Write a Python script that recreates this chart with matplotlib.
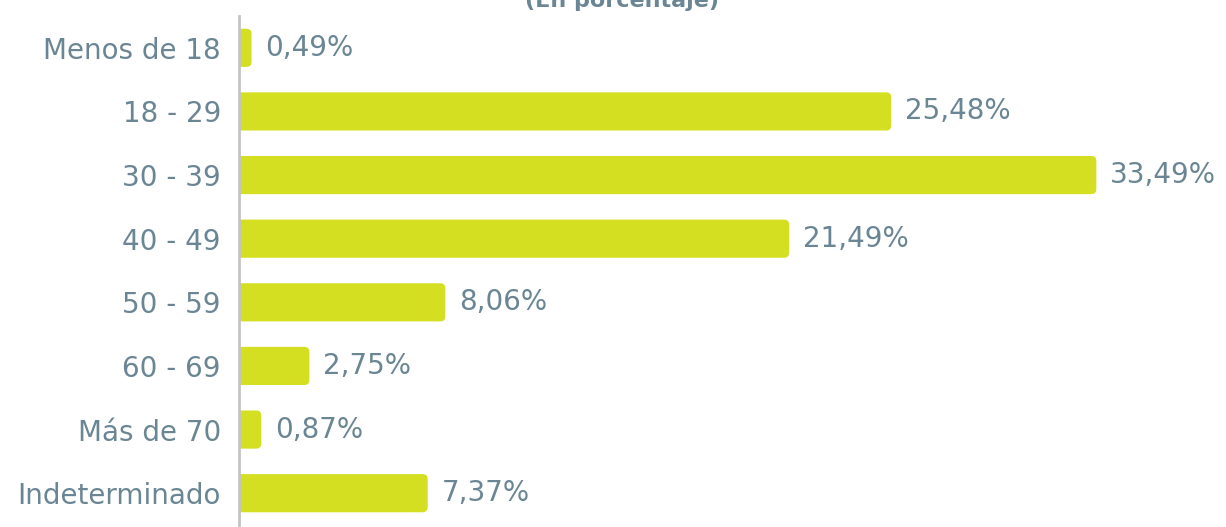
import numpy as np
import matplotlib.pyplot as plt
from matplotlib.patches import FancyBboxPatch

categories = ['Menos de 18', '18 - 29', '30 - 39', '40 - 49', '50 - 59',
              '60 - 69', 'Más de 70', 'Indeterminado']
values = [0.49, 25.48, 33.49, 21.49, 8.06, 2.75, 0.87, 7.37]
labels = ['0,49%', '25,48%', '33,49%', '21,49%', '8,06%', '2,75%', '0,87%', '7,37%']

bar_color = '#d4df22'
text_color = '#6a8593'

plt.rcParams['font.family'] = ['DejaVu Sans']

fig = plt.figure(figsize=(12.26, 5.27), dpi=100)
W, H = 1226, 527
ax = fig.add_axes([239 / W, 1 - 525 / H, (W - 239) / W, (525 - 16) / H])

y = np.arange(len(categories))
ax.set_xlim(0, (W - 239) / 25.6)
ax.set_ylim(len(categories) - 0.5, -0.5)

bar_h = 0.6
for yi, v, lab in zip(y, values, labels):
    patch = FancyBboxPatch((-0.5, yi - bar_h / 2), v + 0.5, bar_h,
                           boxstyle='round,pad=0,rounding_size=0.2',
                           mutation_aspect=0.4, facecolor=bar_color,
                           edgecolor='none', zorder=2)
    ax.add_patch(patch)
    ax.annotate(lab, (v, yi), xytext=(10, 0), textcoords='offset points',
                ha='left', va='center', fontsize=20, color=text_color)

ax.set_yticks(y)
ax.set_yticklabels(categories, fontsize=20, color=text_color)
ax.tick_params(axis='y', length=0, pad=13)
ax.set_xticks([])
for s in ['top', 'right', 'bottom']:
    ax.spines[s].set_visible(False)
ax.spines['left'].set_color('#c4c4c4')
ax.spines['left'].set_linewidth(2)
ax.spines['left'].set_zorder(3)

fig.text(622 / W, 1 - 7 / H, '(En porcentaje)', ha='center', va='baseline',
         fontsize=16, fontweight='bold', color=text_color)

fig.savefig('out.png', dpi=100)
